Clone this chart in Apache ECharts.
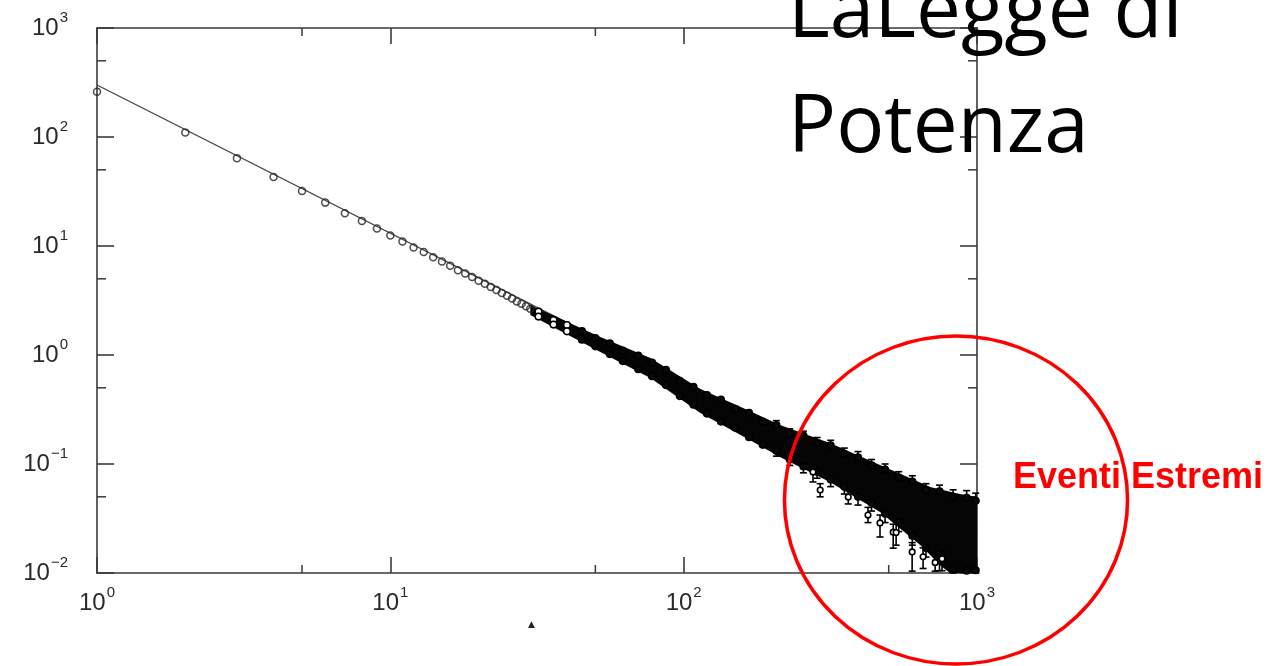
<!DOCTYPE html>
<html><head><meta charset="utf-8">
<script src="https://cdn.jsdelivr.net/npm/echarts@6/dist/echarts.min.js"></script>
<style>html,body{margin:0;padding:0;background:#fff}#c{width:1276px;height:666px}</style>
</head><body><div id="c"></div>
<script>
// ---- data ----
const fitLine = [[1, 300], [1000, 0.025]];
const sparseX = [1,2,3,4,5,6,7,8,9,10,11,12,13,14,15,16,17,18,19,20,21,22,23,24,25,26,27,28,29,30];
const sparseY = [260,110,64,43,32,25,20,17,14.5,12.5,11,9.7,8.8,7.9,7.2,6.6,6.0,5.6,5.2,4.8,4.5,4.2,3.95,3.7,3.5,3.3,3.1,2.95,2.8,2.65];

const bandX     = [30, 52, 77, 114, 168, 213, 315, 467, 640, 692, 748, 809, 875, 1000];
const bandUpper = [2.88, 1.46, 0.94, 0.488, 0.306, 0.228, 0.156, 0.098, 0.0675, 0.0615, 0.0586, 0.0557, 0.053, 0.0498];
const bandLower = [2.33, 1.065, 0.615, 0.294, 0.166, 0.116, 0.0684, 0.0363, 0.0181, 0.0146, 0.0118, 0.01, 0.01, 0.01];

const edgeX   = [32,36,40,45,50,56,62,70,78,87,97,108,120,134,150,167,186,207,230,256,285,317,353,393,437,486,541,602,670,745,829,922,990];
const upperY  = [2.5,2.1,1.88,1.66,1.43,1.28,1.1,0.99,0.853,0.73,0.58,0.51,0.428,0.39,0.32,0.295,0.245,0.228,0.19,0.182,0.155,0.148,0.124,0.115,0.097,0.089,0.075,0.069,0.058,0.056,0.05,0.049,0.046];
const upperHi = [null,null,null,null,null,null,null,null,null,null,null,null,null,null,null,null,null,0.25,0.21,0.2,0.175,0.165,0.14,0.13,0.11,0.1,0.085,0.078,0.066,0.064,0.058,0.057,0.054];
const lowerY  = [2.25,1.9,1.65,1.38,1.2,1.02,0.88,0.74,0.64,0.53,0.42,0.35,0.29,0.245,0.215,0.176,0.15,0.132,0.11,0.095,0.085,0.072,0.062,0.05,0.044,0.035,0.029,0.022,0.017,0.013,0.0108,0.0105,0.0106];
const lowerLo = [null,null,null,null,null,null,null,null,null,null,null,null,null,null,null,null,null,0.118,0.097,0.083,0.074,0.062,0.053,0.042,0.037,0.029,0.024,0.018,0.014,0.0105,0.01,0.01,0.01];

// outliers below the cloud: [x, y, low, high]
const outliers = [
  [276, 0.0845, 0.0684, 0.098],
  [292, 0.0577, 0.05, 0.066],
  [364, 0.0498, 0.043, 0.057],
  [425, 0.034, 0.029, 0.04],
  [467, 0.0288, 0.0214, 0.034],
  [518, 0.0237, 0.0169, 0.028],
  [530, 0.0235, 0.018, 0.028],
  [601, 0.0156, 0.0104, 0.019],
  [655, 0.0141, 0.011, 0.017],
  [720, 0.0125, 0.0104, 0.015],
  [760, 0.0135, 0.0105, 0.016]
];

const minorX = [5, 50, 500];
const minorY = [0.05, 0.5, 5, 50, 500];
const titleLines = ['LaLegge di', 'Potenza'];
const noteText = 'Eventi Estremi';
const cutMark = '▲';

// ---- chart ----
const AX = '#3a3a3a';
function supLabel(v) {
  const e = Math.round(Math.log10(v));
  return '{b|10}{s|' + (e < 0 ? '\u2212' + (-e) : e) + '}';
}
const rich = {
  b: { fontSize: 24, fontFamily: 'Liberation Sans', color: '#2a2a2a', lineHeight: 28 },
  s: { fontSize: 15, fontFamily: 'Liberation Sans', color: '#2a2a2a', lineHeight: 15, padding: [0, 0, 20, 1] }
};

const errData = [];
edgeX.forEach((x, i) => {
  errData.push([x, upperY[i], upperY[i], upperHi[i] == null ? upperY[i] : upperHi[i], 0]);
  errData.push([x, lowerY[i], lowerLo[i] == null ? lowerY[i] : lowerLo[i], lowerY[i], 0]);
});
outliers.forEach(o => errData.push(o.concat([1])));

const chart = echarts.init(document.getElementById('c'), null, { renderer: 'canvas' });
chart.setOption({
  animation: false,
  backgroundColor: '#fff',
  grid: { left: 97, right: 299, top: 28, bottom: 93, containLabel: false },
  xAxis: [
    { type: 'log', logBase: 10, min: 1, max: 1000, splitNumber: 3, position: 'bottom',
      axisLine: { lineStyle: { color: AX, width: 1.6 } },
      axisTick: { inside: true, length: 16, lineStyle: { color: AX, width: 1.6 } },
      splitLine: { show: false }, minorTick: { show: false },
      axisLabel: { margin: 16, formatter: supLabel, rich: rich } },
    { type: 'log', logBase: 10, min: 1, max: 1000, splitNumber: 3, position: 'top',
      axisLine: { lineStyle: { color: AX, width: 1.6 } },
      axisTick: { inside: true, length: 16, lineStyle: { color: AX, width: 1.6 } },
      splitLine: { show: false }, axisLabel: { show: false } }
  ],
  yAxis: [
    { type: 'log', logBase: 10, min: 0.01, max: 1000, splitNumber: 5, position: 'left',
      axisLine: { lineStyle: { color: AX, width: 1.6 } },
      axisTick: { inside: true, length: 17, lineStyle: { color: AX, width: 1.6 } },
      splitLine: { show: false },
      axisLabel: { margin: 29, formatter: supLabel, rich: rich } },
    { type: 'log', logBase: 10, min: 0.01, max: 1000, splitNumber: 5, position: 'right',
      axisLine: { lineStyle: { color: AX, width: 1.6 } },
      axisTick: { inside: true, length: 17, lineStyle: { color: AX, width: 1.6 } },
      splitLine: { show: false }, axisLabel: { show: false } }
  ],
  series: [
    { type: 'custom', name: 'minorX', silent: true, z: 1,
      data: minorX.map(v => [v, 1]),
      renderItem(params, api) {
        const cs = params.coordSys;
        const px = api.coord([api.value(0), 1])[0];
        const st = { stroke: AX, lineWidth: 1.5 };
        return { type: 'group', children: [
          { type: 'line', shape: { x1: px, y1: cs.y + cs.height, x2: px, y2: cs.y + cs.height - 8 }, style: st },
          { type: 'line', shape: { x1: px, y1: cs.y, x2: px, y2: cs.y + 8 }, style: st }
        ] };
      } },
    { type: 'custom', name: 'minorY', silent: true, z: 1,
      data: minorY.map(v => [10, v]),
      renderItem(params, api) {
        const cs = params.coordSys;
        const py = api.coord([10, api.value(1)])[1];
        const st = { stroke: AX, lineWidth: 1.5 };
        return { type: 'group', children: [
          { type: 'line', shape: { x1: cs.x, y1: py, x2: cs.x + 9, y2: py }, style: st },
          { type: 'line', shape: { x1: cs.x + cs.width, y1: py, x2: cs.x + cs.width - 9, y2: py }, style: st }
        ] };
      } },
    { type: 'line', name: 'fit', silent: true, z: 2,
      data: fitLine, showSymbol: false,
      lineStyle: { color: '#444', width: 1.3 } },
    { type: 'custom', name: 'band', silent: true, z: 3,
      data: [[bandX[0], bandUpper[0]]],
      renderItem(params, api) {
        const pts = [];
        for (let i = 0; i < bandX.length; i++) pts.push(api.coord([bandX[i], bandUpper[i]]));
        for (let i = bandX.length - 1; i >= 0; i--) pts.push(api.coord([bandX[i], bandLower[i]]));
        return { type: 'polygon', shape: { points: pts }, style: { fill: '#050505' } };
      } },
    { type: 'custom', name: 'points', silent: true, z: 4,
      encode: { x: 0, y: [1, 2, 3] },
      data: errData,
      renderItem(params, api) {
        const x = api.value(0), y = api.value(1), lo = api.value(2), hi = api.value(3), out = api.value(4);
        const p = api.coord([x, y]);
        const children = [];
        const st = { stroke: '#000', lineWidth: 1.6 };
        if (hi > lo) {
          const pl = api.coord([x, lo]), ph = api.coord([x, hi]);
          children.push({ type: 'line', shape: { x1: p[0], y1: pl[1], x2: p[0], y2: ph[1] }, style: st });
          children.push({ type: 'line', shape: { x1: p[0] - 3.5, y1: pl[1], x2: p[0] + 3.5, y2: pl[1] }, style: st });
          children.push({ type: 'line', shape: { x1: p[0] - 3.5, y1: ph[1], x2: p[0] + 3.5, y2: ph[1] }, style: st });
        }
        const fill = (x < 42 || out === 1) ? '#fff' : '#0a0a0a';
        children.push({ type: 'circle', shape: { cx: p[0], cy: p[1], r: out === 1 ? 2.8 : 3.3 },
          style: { fill: fill, stroke: '#000', lineWidth: 1.6 } });
        return { type: 'group', children };
      } },
    { type: 'scatter', name: 'sparse', silent: true, z: 5,
      data: sparseX.map((x, i) => [x, sparseY[i]]),
      symbol: 'circle', symbolSize: 7,
      itemStyle: { color: 'rgba(255,255,255,0)', borderColor: '#222', borderWidth: 1.5 } }
  ],
  graphic: [
    { type: 'circle', z: 10, shape: { cx: 956, cy: 500, r: 164 }, scaleX: 1.046, scaleY: 1, originX: 956, originY: 500,
      style: { fill: 'none', stroke: '#ff0000', lineWidth: 3.4 } },
    { type: 'text', z: 11, left: 788, top: -26, style: { text: titleLines[0], font: '80px "Open Sans"', fill: '#000' } },
    { type: 'text', z: 11, left: 788, top: 89, style: { text: titleLines[1], font: '80px "Open Sans"', fill: '#000' } },
    { type: 'text', z: 11, left: 1013, top: 460, style: { text: noteText, font: 'bold 36px "Liberation Sans"', fill: '#ff0000' } },
    { type: 'text', z: 11, left: 528, top: 620, style: { text: cutMark, font: '9px "DejaVu Sans"', fill: '#222' } }
  ]
});
</script>
</body></html>
